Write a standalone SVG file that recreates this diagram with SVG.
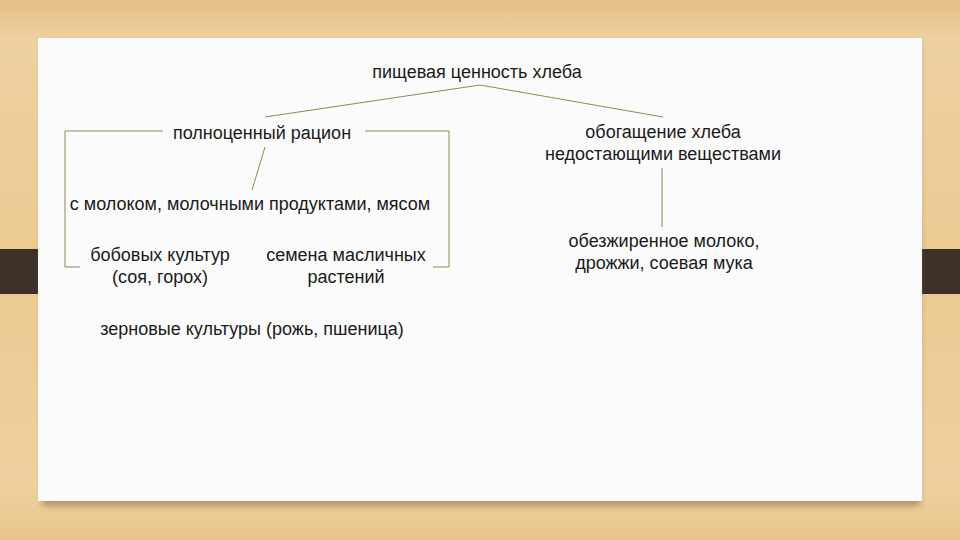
<svg xmlns="http://www.w3.org/2000/svg" width="960" height="540" viewBox="0 0 960 540">
<defs>
<linearGradient id="wood" x1="0" y1="0" x2="0" y2="1">
<stop offset="0" stop-color="#e6c088"/>
<stop offset="0.08" stop-color="#efd1a0"/>
<stop offset="0.5" stop-color="#ebc992"/>
<stop offset="0.9" stop-color="#efd09e"/>
<stop offset="1" stop-color="#e8c58c"/>
</linearGradient>
<filter id="sh" x="-5%" y="-5%" width="110%" height="115%">
<feGaussianBlur stdDeviation="3"/>
</filter>
<style>
text{font-family:"Liberation Sans",Arial,sans-serif;font-size:18px;fill:#1a1a1a;text-anchor:middle}
.c line,.c polyline{stroke:#8c8a52;stroke-width:1;fill:none}
</style>
</defs>
<rect width="960" height="540" fill="url(#wood)"/>
<rect x="0" y="249" width="38" height="45" fill="#3d3128"/>
<rect x="922" y="249" width="38" height="45" fill="#3d3128"/>
<rect x="42" y="44" width="878" height="462" fill="#8a7350" opacity="0.6" filter="url(#sh)"/>
<rect x="38" y="38" width="884" height="463" fill="#fbfbfb"/>
<g class="c" id="connectors">
<polyline points="265,117 480,85 663,117"/>
<polyline points="163,131 65,131 65,267 80,267"/>
<polyline points="365,131 449,131 449,267 433,267"/>
<line x1="265" y1="147" x2="252" y2="190"/>
<line x1="662" y1="168" x2="662" y2="227"/>
</g>
<g id="n-root"><text x="477" y="78">пищевая ценность хлеба</text></g>
<g id="n-ration"><text x="262" y="139">полноценный рацион</text></g>
<g id="n-enrich"><text x="663" y="138">обогащение хлеба</text><text x="663" y="160">недостающими веществами</text></g>
<g id="n-milk"><text x="250" y="210">с молоком, молочными продуктами, мясом</text></g>
<g id="n-beans"><text x="160" y="261">бобовых культур</text><text x="160" y="283">(соя, горох)</text></g>
<g id="n-seeds"><text x="346" y="261">семена масличных</text><text x="346" y="283">растений</text></g>
<g id="n-grain"><text x="252" y="335">зерновые культуры (рожь, пшеница)</text></g>
<g id="n-skim"><text x="664" y="247">обезжиренное молоко,</text><text x="664" y="269">дрожжи, соевая мука</text></g>
</svg>
